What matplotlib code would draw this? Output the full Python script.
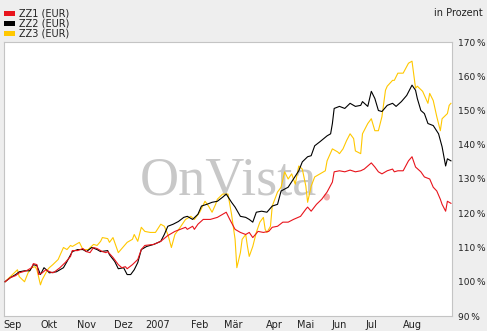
import matplotlib
matplotlib.use("Agg")
import matplotlib.pyplot as plt
from matplotlib.patches import Rectangle

# trading day index (0 = start of Sep 2006) and performance in percent
zz1_day = [0, 3, 6, 8, 12, 15, 16, 18, 19, 21, 23, 24, 27, 28, 31, 34, 37, 38, 41, 44,
           46, 48, 50, 52, 55, 57, 58, 61, 64, 66, 68, 69, 72, 75, 77, 79, 84, 88, 92, 96,
           99, 102, 103, 106, 107, 109, 112, 116, 120, 123, 125, 127, 130, 133, 136, 138, 140, 143, 146, 149,
           151, 154, 157, 160, 163, 167, 170, 171, 173, 176, 179, 182, 185, 186, 189, 192, 195, 198, 201, 203,
           207, 209, 211, 213, 216, 219, 220, 222, 225, 228, 230, 232, 235, 237, 240, 242, 244, 246, 247, 249,
           250, 252]
zz1_val = [100.0, 101.2, 101.8, 102.6, 103.2, 104.1, 105.3, 105.0, 102.1, 102.6, 103.5, 103.2, 102.6, 102.9, 104.1, 105.6, 107.4, 109.1, 109.1, 109.7,
           108.8, 108.5, 110.0, 109.7, 108.8, 108.5, 108.8, 107.1, 105.0, 104.1, 104.4, 103.8, 105.0, 106.5, 109.4, 110.6, 110.9, 111.8, 113.5, 114.7,
           115.3, 115.9, 115.3, 116.2, 115.3, 116.8, 118.2, 118.2, 118.8, 119.7, 120.3, 118.2, 115.3, 114.4, 113.8, 114.4, 112.9, 114.7, 114.4, 114.7,
           115.9, 116.2, 117.4, 117.4, 118.2, 119.1, 121.2, 121.8, 120.6, 122.6, 124.1, 126.2, 129.1, 132.1, 132.4, 132.1, 132.6, 132.1, 132.4, 132.9,
           134.7, 133.5, 132.1, 131.5, 132.4, 132.9, 132.1, 132.4, 132.4, 135.3, 136.5, 133.5, 132.1, 130.6, 130.0, 127.6, 126.5, 124.1, 122.6, 120.6,
           123.5, 122.9]

zz2_day = [0, 3, 6, 8, 11, 14, 16, 18, 20, 22, 24, 25, 29, 33, 35, 38, 41, 44, 46, 49,
           52, 54, 58, 59, 62, 64, 67, 69, 71, 73, 75, 77, 80, 84, 88, 90, 92, 95, 98, 101,
           103, 106, 109, 111, 114, 117, 120, 123, 125, 128, 130, 133, 136, 138, 140, 142, 145, 148, 151, 154,
           156, 160, 163, 166, 168, 171, 173, 175, 178, 182, 184, 185, 186, 189, 192, 195, 198, 201, 202, 205,
           207, 209, 211, 213, 216, 219, 221, 224, 227, 230, 232, 233, 235, 237, 239, 242, 245, 247, 249, 250,
           252]
zz2_val = [100.0, 101.2, 102.1, 102.9, 103.2, 103.2, 105.0, 104.7, 102.1, 104.1, 103.2, 102.6, 102.9, 104.1, 105.9, 108.8, 109.4, 109.4, 108.8, 110.0,
           109.4, 108.8, 109.1, 107.9, 105.9, 103.8, 104.1, 102.1, 102.1, 103.5, 105.6, 109.4, 110.3, 110.9, 111.8, 113.8, 116.2, 116.8, 117.6, 118.8,
           119.1, 118.2, 119.7, 122.1, 122.6, 123.2, 123.5, 124.7, 125.6, 123.2, 121.8, 119.1, 118.8, 118.2, 117.4, 120.3, 120.6, 120.3, 122.1, 122.6,
           126.5, 127.6, 130.0, 132.4, 135.0, 136.5, 136.8, 139.7, 140.9, 142.6, 143.2, 146.2, 150.6, 151.2, 150.6, 152.1, 151.2, 151.5, 152.6, 151.2,
           155.6, 153.5, 150.0, 149.7, 151.5, 152.1, 151.2, 152.6, 154.4, 157.4, 155.9, 153.5, 150.0, 149.1, 146.2, 145.6, 143.2, 139.4, 133.8, 135.9,
           135.3]

zz3_day = [0, 3, 7, 8, 11, 13, 15, 17, 18, 20, 21, 24, 25, 27, 30, 33, 35, 37, 38, 42,
           44, 47, 50, 52, 54, 55, 58, 59, 61, 64, 67, 69, 72, 73, 75, 77, 79, 82, 85, 88,
           90, 92, 94, 96, 99, 102, 105, 107, 110, 113, 115, 117, 119, 120, 123, 126, 128, 130, 131, 133,
           134, 136, 137, 138, 140, 142, 144, 146, 147, 148, 150, 151, 154, 156, 158, 160, 162, 164, 166, 168,
           170, 171, 173, 175, 178, 181, 182, 185, 188, 189, 191, 193, 195, 197, 198, 201, 202, 205, 207, 209,
           211, 213, 215, 216, 219, 220, 222, 225, 228, 230, 232, 233, 236, 239, 240, 242, 244, 246, 247, 250,
           251, 252]
zz3_val = [100.0, 101.5, 103.5, 101.5, 100.0, 102.6, 104.1, 104.4, 103.5, 99.1, 100.6, 103.5, 104.1, 105.0, 106.5, 110.0, 109.4, 110.6, 110.3, 111.5,
           109.4, 109.4, 110.9, 110.6, 111.8, 112.9, 112.6, 111.5, 112.9, 108.5, 110.3, 111.5, 112.4, 113.8, 111.8, 115.9, 114.7, 114.4, 114.4, 116.8,
           116.2, 113.8, 110.0, 113.8, 115.9, 118.2, 119.1, 118.2, 120.3, 123.5, 122.1, 120.3, 122.6, 124.1, 125.6, 125.6, 119.7, 112.4, 104.1, 108.5,
           112.4, 113.8, 110.3, 107.4, 110.3, 114.4, 117.4, 118.8, 115.3, 114.4, 116.2, 122.1, 126.2, 127.6, 132.1, 130.0, 131.5, 128.5, 133.8, 132.9,
           127.9, 123.2, 127.9, 130.6, 131.5, 132.4, 135.3, 138.8, 137.9, 137.4, 138.8, 141.2, 143.2, 141.8, 138.2, 137.4, 143.2, 146.2, 147.6, 144.1,
           144.1, 148.2, 155.9, 157.1, 158.8, 158.8, 160.9, 160.9, 163.8, 164.4, 156.5, 157.1, 155.6, 152.1, 155.0, 152.9, 148.2, 144.1, 147.6, 149.1,
           151.5, 152.1]

series_names = ["ZZ1 (EUR)", "ZZ2 (EUR)", "ZZ3 (EUR)"]
series_colors = ["#e8141c", "#000000", "#ffc800"]

month_labels = ["Sep", "Okt", "Nov", "Dez", "2007", "Feb", "Mär", "Apr", "Mai", "Jun", "Jul", "Aug"]
month_pos = [4, 25, 46, 67, 86, 110, 129, 152, 170, 189, 207, 230]
y_ticks = [90, 100, 110, 120, 130, 140, 150, 160, 170]

W, H = 487, 331
fig = plt.figure(figsize=(W / 100, H / 100), dpi=100, facecolor="#eeeeee")
ax = fig.add_axes([4 / W, 1 - 316 / H, 448 / W, 274 / H])
ax.set_facecolor("white")

# watermark
ax.text(0.5, 0.49, "OnVista", transform=ax.transAxes, ha="center", va="center",
        fontsize=39, family="Liberation Serif", color="#c8c8c8", zorder=0)
ax.text(0.705, 0.47, ".", transform=ax.transAxes, ha="left", va="center",
        fontsize=39, family="Liberation Serif", color="#f2b0b0", zorder=0)

ax.plot(zz3_day, zz3_val, color=series_colors[2], lw=0.8, zorder=2)
ax.plot(zz2_day, zz2_val, color=series_colors[1], lw=0.8, zorder=3)
ax.plot(zz1_day, zz1_val, color=series_colors[0], lw=0.8, zorder=4)

ax.set_xlim(-0.6, 252.6)
ax.set_ylim(90, 170)
for s in ax.spines.values():
    s.set_color("#c4c4c4")
    s.set_linewidth(0.8)

ax.set_xticks(month_pos)
ax.set_xticklabels(month_labels, fontsize=7, color="#222222")
ax.set_yticks(y_ticks)
ax.set_yticklabels([f"{v}\u2009%" for v in y_ticks], fontsize=6.5, color="#222222")
ax.yaxis.tick_right()
ax.tick_params(axis="both", length=0)
ax.tick_params(axis="x", pad=3)
ax.tick_params(axis="y", pad=4)

# legend at top left
for i, (name, col) in enumerate(zip(series_names, series_colors)):
    yc = 13 + i * 10
    fig.patches.append(Rectangle((4 / W, 1 - (yc + 2.5) / H), 11 / W, 5 / H,
                                 transform=fig.transFigure, facecolor=col, edgecolor="none"))
    fig.text(19 / W, 1 - yc / H, name, fontsize=7, color="#222222", va="center", ha="left")

fig.text(483 / W, 1 - 13 / H, "in Prozent", fontsize=7, color="#222222", va="center", ha="right")

fig.savefig("out.png", dpi=100, facecolor=fig.get_facecolor())
